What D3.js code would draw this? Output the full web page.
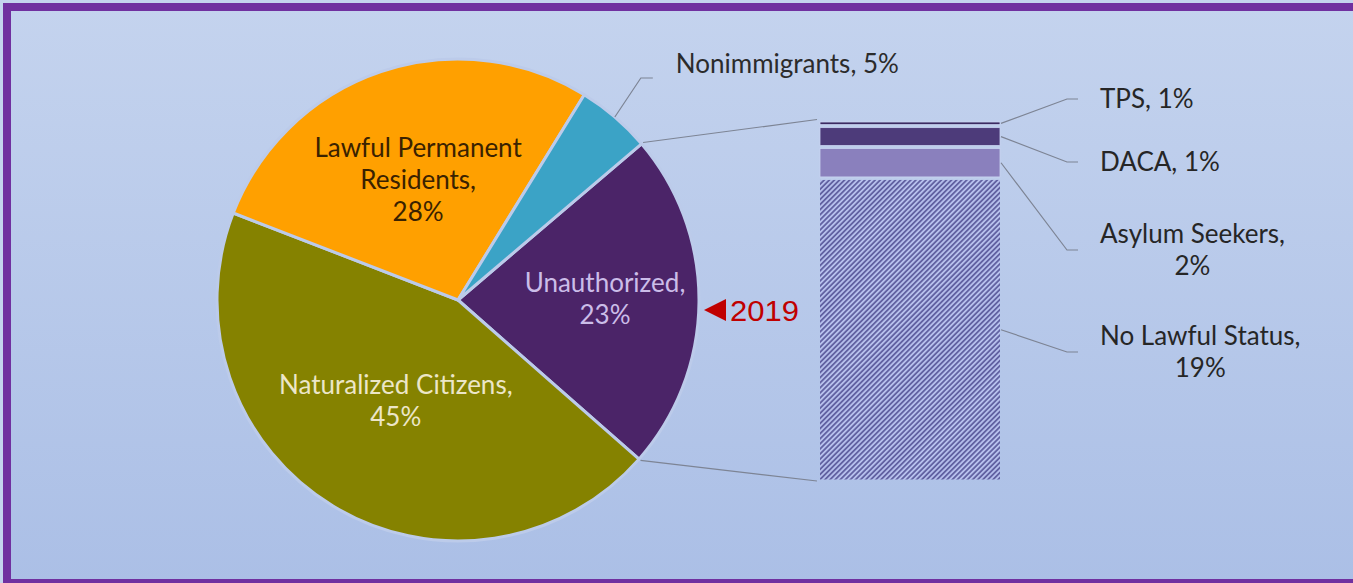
<!DOCTYPE html>
<html>
<head>
<meta charset="utf-8">
<script src="https://cdn.jsdelivr.net/npm/d3@7"></script>
<style>
  html, body { margin: 0; padding: 0; background: #c4d3ee; overflow: hidden; }
  svg { display: block; }
</style>
</head>
<body>
<svg id="chart" width="1353" height="583"></svg>
<script>
// pie: status of the immigrant population (share, %)
const pieCategories = ['Unauthorized', 'Naturalized Citizens', 'Lawful Permanent Residents', 'Nonimmigrants']
const pieValues = [22.7, 44.4, 27.9, 5.0]
const pieLabels = [['Unauthorized,', '23%'], ['Naturalized Citizens,', '45%'], ['Lawful Permanent', 'Residents,', '28%'], ['Nonimmigrants, 5%']]

// bar: breakdown of the unauthorized slice (share, %)
const barCategories = ['TPS', 'DACA', 'Asylum Seekers', 'No Lawful Status']
const barValues = [0.35, 1.3, 1.95, 18.8]
const barLabels = [['TPS, 1%'], ['DACA, 1%'], ['Asylum Seekers,', '2%'], ['No Lawful Status,', '19%']]
const yearLabel = '2019'

const W = 1353, H = 583
const svg = d3.select('#chart')
const defs = svg.append('defs')

const grad = defs.append('linearGradient').attr('id', 'bg')
    .attr('x1', 0).attr('y1', 0).attr('x2', 0).attr('y2', 1)
grad.append('stop').attr('offset', '0%').attr('stop-color', '#c4d3ee')
grad.append('stop').attr('offset', '100%').attr('stop-color', '#abbfe6')

const hatch = defs.append('pattern').attr('id', 'hatch')
    .attr('patternUnits', 'userSpaceOnUse')
    .attr('width', 3.6).attr('height', 3.6)
    .attr('patternTransform', 'rotate(45)')
hatch.append('rect').attr('width', 3.6).attr('height', 3.6).attr('fill', '#b6bfec')
hatch.append('rect').attr('width', 1.8).attr('height', 3.6).attr('fill', '#6262a2')

svg.append('rect').attr('x', 7).attr('y', 7).attr('width', W + 20).attr('height', 576)
    .attr('fill', 'url(#bg)').attr('stroke', '#7030a0').attr('stroke-width', 8)

const font = 'Lato, "Open Sans", sans-serif'
const fontSize = 26, lineGap = 32, capH = 18.6

function multiline(g, lines, x, cy, anchor) {
    const first = cy + capH / 2 - (lines.length - 1) * lineGap / 2
    const t = g.append('text')
        .attr('font-family', font).attr('font-size', fontSize)
        .attr('text-anchor', anchor)
    lines.forEach((l, i) => {
        t.append('tspan').attr('x', x).attr('y', first + i * lineGap).text(l)
    })
    return t
}

// ---- pie ----
const cx = 458, cy = 300, r = 241
const pieColors = ['#4b2468', '#858200', '#ffa000', '#3ba3c6']
const pieText = ['#cbbde9', '#ece6c8', '#3a2200', '#2b2b2b']
const start = 49.6 * Math.PI / 180

const pie = d3.pie().sort(null).startAngle(start).endAngle(start + 2 * Math.PI)
const arcs = pie(pieValues)
const arc = d3.arc().innerRadius(0).outerRadius(r)

const gPie = svg.append('g').attr('transform', `translate(${cx},${cy})`)
gPie.selectAll('path').data(arcs).enter().append('path')
    .attr('d', arc)
    .attr('fill', (d, i) => pieColors[i])
    .attr('stroke', '#bccbea').attr('stroke-width', 3)
    .attr('stroke-linejoin', 'round')

const labelRadius = [147, 120, 125]
arcs.slice(0, 3).forEach((d, i) => {
    const c = d3.arc().innerRadius(labelRadius[i]).outerRadius(labelRadius[i]).centroid(d)
    multiline(gPie, pieLabels[i], c[0], c[1] - 2, 'middle')
        .attr('fill', pieText[i])
})

// nonimmigrants callout
const nd = arcs[3]
const nm = (nd.startAngle + nd.endAngle) / 2
const np = [Math.sin(nm) * r, -Math.cos(nm) * r]
gPie.append('polyline')
    .attr('points', [np, [np[0] + 26, -222], [np[0] + 38, -222]].map(p => p.join(',')).join(' '))
    .attr('fill', 'none').attr('stroke', '#7d8494').attr('stroke-width', 1.2)
multiline(gPie, pieLabels[3], np[0] + 61, -236, 'start').attr('fill', pieText[3])

// ---- stacked bar ----
const bx0 = 820, bx1 = 1000
const y = d3.scaleLinear().domain([0, d3.sum(barValues)]).range([120.5, 481])
const cum = d3.cumsum(barValues)
const segs = barValues.map((v, i) => ({ v, y0: y(cum[i] - v), y1: y(cum[i]) }))
const barFill = ['#3b2a62', '#4d3b7a', '#8a80bd', 'url(#hatch)']

// connectors from the unauthorized slice to the bar
const ua = arcs[0]
const rr = r + 2
const pTop = [cx + Math.sin(ua.startAngle) * rr, cy - Math.cos(ua.startAngle) * rr]
const pBot = [cx + Math.sin(ua.endAngle) * rr, cy - Math.cos(ua.endAngle) * rr]
svg.append('line').attr('x1', pTop[0]).attr('y1', pTop[1]).attr('x2', bx0 - 3).attr('y2', y.range()[0] - 1)
    .attr('stroke', '#7d8494').attr('stroke-width', 1.2)
svg.append('line').attr('x1', pBot[0]).attr('y1', pBot[1]).attr('x2', bx0 - 3).attr('y2', y.range()[1])
    .attr('stroke', '#7d8494').attr('stroke-width', 1.2)

svg.selectAll('rect.seg').data(segs).enter().append('rect')
    .attr('class', 'seg')
    .attr('x', bx0).attr('width', bx1 - bx0)
    .attr('y', d => d.y0 + 1.5)
    .attr('height', d => Math.max(1, d.y1 - d.y0 - 3))
    .attr('fill', (d, i) => barFill[i])
    .attr('stroke', (d, i) => i === 3 ? 'none' : '#c9d2f1').attr('stroke-width', 0.8)

// right-hand labels
const labelY = [99, 162, 250, 352]
const gLab = svg.append('g')
segs.forEach((d, i) => {
    const my = (d.y0 + d.y1) / 2
    gLab.append('polyline')
        .attr('points', [[bx1 + 1, my], [1067, labelY[i]], [1078, labelY[i]]].map(p => p.join(',')).join(' '))
        .attr('fill', 'none').attr('stroke', '#7d8494').attr('stroke-width', 1.2)
    const t = multiline(gLab, barLabels[i], 1100, labelY[i], 'start').attr('fill', '#262626')
    if (barLabels[i].length > 1) {
        const w = t.select('tspan').node().getComputedTextLength()
        t.attr('text-anchor', 'middle').selectAll('tspan').attr('x', 1100 + w / 2)
    }
})

// year marker
const mx = cx + r + 5, my = cy + 10
svg.append('path')
    .attr('d', `M${mx},${my} L${mx + 22},${my - 11} L${mx + 22},${my + 11} Z`)
    .attr('fill', '#c00000')
svg.append('text').attr('x', mx + 26).attr('y', my + 11)
    .attr('font-family', '"Liberation Sans", Arial, sans-serif').attr('font-size', 29)
    .attr('textLength', 69).attr('lengthAdjust', 'spacingAndGlyphs')
    .attr('fill', '#c00000').text(yearLabel)
</script>
</body>
</html>
